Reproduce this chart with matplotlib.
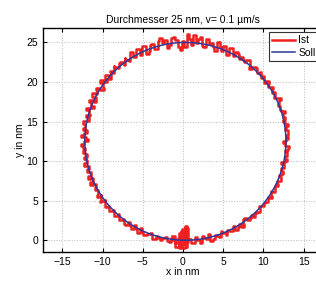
import numpy as np
import matplotlib
matplotlib.use('Agg')
import matplotlib.pyplot as plt

plt.rcParams['font.family'] = ['Liberation Sans', 'DejaVu Sans']

# Soll: Kreis, Durchmesser 25 nm
soll_center = (0.3, 12.5)
soll_radius = 12.5

# Ist: radiale Abweichung (nm) alle 2.5 Grad, ab -90 Grad (unten), gegen Uhrzeigersinn
ist_offsets = [
    0.3, -0.2, 0.4, 0.1, -0.3, 0.2, 0.5, -0.1, 0.3, 0.0,
    -0.2, 0.3, 0.4, -0.1, 0.2, -0.3, 0.1, 0.4, 0.2, -0.2,
    0.3, 0.1, -0.2, 0.4, 0.2, -0.1, 0.3, 0.5, -0.2, 0.1,
    0.4, -0.3, 0.2, 0.5, -0.1, 0.3, -0.4, 0.2, 0.6, -0.2,
    0.3, 0.1, -0.3, 0.4, 0.2, -0.2, 0.5, 0.0, -0.3, 0.3,
    0.2, -0.4, 0.3, 0.5, -0.1, 0.2, -0.3, 0.4, 0.1, -0.2,
    0.5, 0.3, -0.4, 0.6, 0.2, -0.5, 0.4, 0.8, -0.3, 0.6,
    1.0, 0.4, -0.6, -0.9, 0.3, 0.7, -0.5, 0.2, 0.6, -0.3,
    0.4, -0.5, 0.3, 0.6, -0.2, 0.4, 0.1, -0.4, 0.5, 0.2,
    -0.3, 0.4, 0.6, -0.2, 0.3, -0.5, 0.4, 0.7, -0.6, 0.5,
    -0.3, 0.6, 0.2, -0.7, 0.4, 0.5, -0.4, 0.3, -0.2, 0.6,
    0.1, -0.5, 0.4, 0.3, -0.3, 0.5, 0.2, -0.4, 0.6, 0.1,
    -0.2, 0.5, 0.8, -0.3, 0.4, 0.6, -0.2, 0.3, 0.5, -0.1,
    0.4, 0.2, -0.3, 0.5, 0.1, 0.3, -0.2, 0.4, 0.2, 0.0,
    0.3, -0.2, 0.4, 0.1]

# Ist: Abweichung an den Zwischenwinkeln (jeweils +1.25 Grad)
ist_mid = [
    -0.1, 0.4, -0.3, 0.5, 0.0, -0.4, 0.3, 0.2, -0.3, 0.4,
    0.1, -0.3, 0.2, 0.5, -0.4, 0.3, -0.2, 0.1, 0.5, -0.1,
    0.0, 0.4, 0.3, -0.3, 0.5, 0.2, -0.2, 0.1, 0.4, -0.3,
    -0.2, 0.5, -0.1, 0.0, 0.6, -0.4, 0.4, -0.1, 0.1, 0.5,
    -0.2, 0.4, 0.5, -0.3, -0.1, 0.6, -0.2, 0.4, 0.3, -0.2,
    0.5, 0.1, -0.3, 0.0, 0.4, -0.4, 0.5, -0.1, 0.3, 0.4,
    -0.2, 0.7, 0.1, -0.2, 0.8, -0.1, 0.2, -0.4, 0.9, 0.0,
    -0.3, 1.1, 0.2, -0.5, 0.8, -0.2, 0.5, 0.9, -0.4, 0.5,
    -0.2, 0.6, -0.4, 0.2, 0.7, -0.3, 0.5, 0.3, -0.2, 0.6,
    0.4, -0.5, 0.1, 0.7, -0.4, 0.5, -0.1, 0.2, 0.6, -0.3,
    0.5, -0.6, 0.4, 0.5, -0.2, 0.1, 0.6, -0.5, 0.4, -0.1,
    0.6, 0.2, -0.3, 0.5, 0.1, -0.4, 0.6, 0.3, -0.2, 0.4,
    0.5, -0.4, 0.2, 0.6, -0.1, 0.3, 0.5, -0.3, 0.2, 0.4,
    -0.2, 0.5, 0.1, -0.3, 0.4, 0.0, 0.5, -0.1, 0.3, -0.2,
    0.4, 0.1, -0.3, 0.2]

# Ist: Rauschen am Startpunkt unten
start_x = [-1.4, -0.5, 0.2, -0.8, 1.2, -0.3, 0.9, -1.1, 0.1, 0.5, -0.9, 1.4,
           -0.2, 0.7, -1.3, 0.4, -0.6, 1.0, -0.1, 0.8, -1.0, 0.3, 0.0]
start_y = [0.5, -0.8, 1.2, -0.3, 0.8, 1.8, -0.5, 0.9, -1.0, 0.4, 1.1, -0.2,
           1.5, 0.1, 0.3, -0.7, 1.4, 0.6, -0.9, 1.0, -0.4, 0.7, 0.0]

n = len(ist_offsets)
ang_main = -90 + 2.5 * np.arange(n)
ang_mid = ang_main + 1.25
ang = np.column_stack([ang_main, ang_mid]).ravel()
off = np.column_stack([ist_offsets, ist_mid]).ravel()
ang = np.deg2rad(np.append(ang, 270.0))
r_ist = soll_radius + np.append(off, ist_offsets[0])
ist_x = np.concatenate([start_x, soll_center[0] + r_ist * np.cos(ang)])
ist_y = np.concatenate([start_y, soll_center[1] + r_ist * np.sin(ang)])

t = np.linspace(0, 2 * np.pi, 400)
soll_x = soll_center[0] + soll_radius * np.cos(t)
soll_y = soll_center[1] + soll_radius * np.sin(t)

fig = plt.figure(figsize=(3.16, 2.82), dpi=100)
ax = fig.add_axes([0.136, 0.106, 0.886, 0.794])

ax.plot(ist_x, ist_y, color='#ee2020', lw=1.8, drawstyle='steps-mid', label='Ist')
ax.plot(soll_x, soll_y, color='#2a3a9a', lw=1.1, label='Soll')

ax.set_xlim(-17.4, 17.4)
ax.set_ylim(-1.5, 26.8)
ax.set_xticks([-15, -10, -5, 0, 5, 10, 15])
ax.set_yticks([0, 5, 10, 15, 20, 25])
ax.tick_params(direction='in', top=True, right=True, labelsize=7.5, length=3)
ax.grid(True, linestyle=':', color='#bbbbbb', lw=0.7)
for s in ax.spines.values():
    s.set_linewidth(1.0)

ax.set_xlabel('x in nm', fontsize=7.5, labelpad=0)
ax.set_ylabel('y in nm', fontsize=7.5, labelpad=1)
ax.set_title('Durchmesser 25 nm, v= 0.1 µm/s', fontsize=7.5, pad=4)

leg = ax.legend(loc='upper right', fontsize=7.5, handlelength=2.2, fancybox=False,
                framealpha=1, edgecolor='#333333', borderaxespad=0.4,
                handletextpad=0.3, labelspacing=0.2, borderpad=0.3)
leg.get_frame().set_linewidth(0.8)

fig.savefig('out.png', dpi=100)
